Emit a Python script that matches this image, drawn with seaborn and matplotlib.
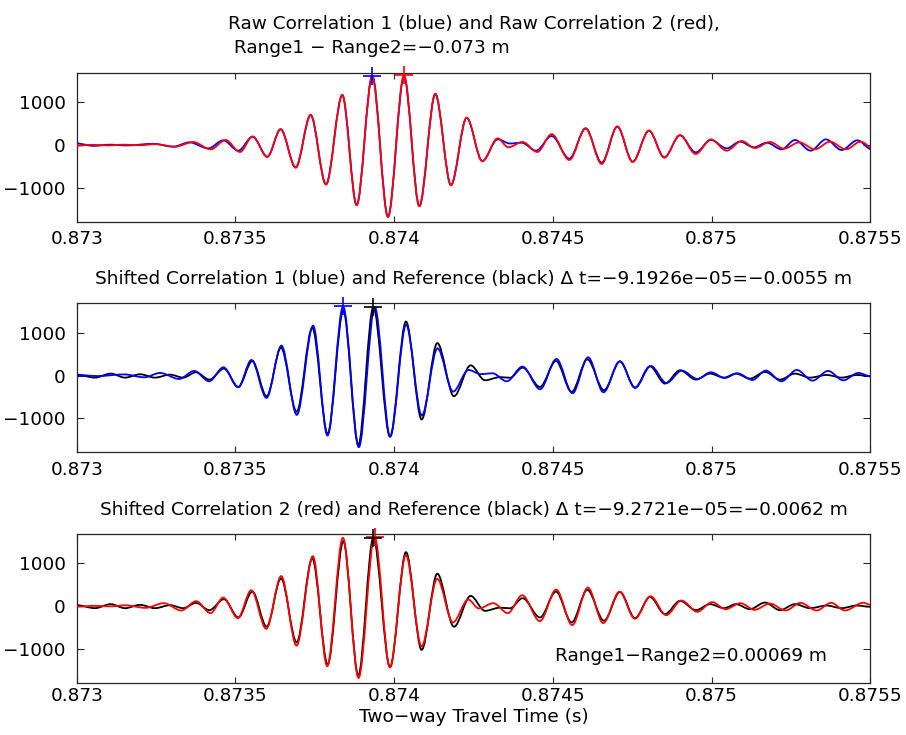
import numpy as np
import pandas as pd
import seaborn as sns
import matplotlib
matplotlib.use("Agg")
import matplotlib.pyplot as plt
from matplotlib.path import Path
from matplotlib.patches import PathPatch

# Peaks and troughs of each correlation trace: two-way travel time (s), amplitude
raw1_time = [0.8730000, 0.8730524, 0.8731049, 0.8731574, 0.8732414, 0.8733044, 0.8733547,
             0.8734146, 0.8734618, 0.8735091, 0.8735542, 0.8736004, 0.8736424, 0.8736897,
             0.8737369, 0.8737852, 0.8738366, 0.8738818, 0.8739311, 0.8739805, 0.8740309,
             0.8740792, 0.8741295, 0.8741789, 0.8742283, 0.8742776, 0.8743259, 0.8743647,
             0.8744015, 0.8744466, 0.8744960, 0.8745516, 0.8746031, 0.8746535, 0.8747028,
             0.8747511, 0.8748025, 0.8748508, 0.8749002, 0.8749495, 0.8749978, 0.8750472,
             0.8750891, 0.8751332, 0.8751731, 0.8752204, 0.8752624, 0.8753117, 0.8753600,
             0.8754094, 0.8754587, 0.8755064, 0.8755537, 0.8755931]
raw1_amp = [35, -20, 8, -10, 28, -39, 62, -78, 109, -132, 194, -272, 365, -521, 700, -917,
            1166, -1399, 1615, -1671, 1600, -1422, 1189, -932, 637, -373, 132, 35, 54, -132,
            210, -318, 389, -412, 427, -389, 334, -287, 225, -171, 117, -78, 78, -54, 54,
            -101, 117, -132, 132, -117, 109, -110, 62, -15]

raw2_time = [0.8730000, 0.8730471, 0.8730996, 0.8731469, 0.8731994, 0.8732466, 0.8733096,
             0.8733673, 0.8734220, 0.8734692, 0.8735143, 0.8735542, 0.8736004, 0.8736424,
             0.8736897, 0.8737369, 0.8737852, 0.8738366, 0.8738818, 0.8739311, 0.8739805,
             0.8740309, 0.8740792, 0.8741295, 0.8741789, 0.8742283, 0.8742776, 0.8743259,
             0.8743595, 0.8744046, 0.8744508, 0.8744960, 0.8745516, 0.8746031, 0.8746535,
             0.8747028, 0.8747511, 0.8748025, 0.8748508, 0.8749002, 0.8749495, 0.8749978,
             0.8750472, 0.8750944, 0.8751364, 0.8751836, 0.8752277, 0.8752760, 0.8753254,
             0.8753726, 0.8754230, 0.8754692, 0.8755124, 0.8755704, 0.8755934]
raw2_amp = [-16, 5, -10, 8, -5, 20, -39, 70, -101, 117, -163, 200, -280, 372, -530, 705,
            -925, 1170, -1405, 1600, -1680, 1625, -1430, 1195, -940, 640, -380, 155, -54, 70,
            -163, 256, -350, 389, -443, 435, -395, 340, -295, 232, -210, 132, -132, 93, -70,
            70, -85, 62, -101, 78, -101, 78, -101, 80, 31]

ref_time = [0.8730000, 0.8730576, 0.8731070, 0.8731521, 0.8731994, 0.8732466, 0.8732939,
            0.8733358, 0.8733757, 0.8734177, 0.8734639, 0.8735091, 0.8735532, 0.8735983,
            0.8736435, 0.8736928, 0.8737421, 0.8737905, 0.8738398, 0.8738870, 0.8739343,
            0.8739868, 0.8740372, 0.8740865, 0.8741358, 0.8741883, 0.8742408, 0.8742860,
            0.8743332, 0.8743647, 0.8744046, 0.8744592, 0.8745096, 0.8745590, 0.8746083,
            0.8746608, 0.8747112, 0.8747584, 0.8748057, 0.8748529, 0.8749002, 0.8749506,
            0.8749946, 0.8750387, 0.8750765, 0.8751206, 0.8751679, 0.8752151, 0.8752624,
            0.8753096, 0.8753621, 0.8754094, 0.8754566, 0.8755000]
ref_amp = [23, -47, 47, -47, 31, -47, 23, -47, 78, -93, 163, -264, 341, -481, 651, -845,
           1116, -1364, 1519, -1620, 1600, -1426, 1263, -1023, 760, -481, 240, -109, -35, -50,
           186, -264, 341, -380, 380, -341, 333, -279, 217, -186, 124, -93, 47, -47, 47, -70,
           85, -93, 47, -47, 15, -47, 15, -15]

# Time shifts applied to align each correlation with the reference
dt1 = -9.1926e-05
dt2 = -9.2721e-05
shift1_m = -0.0055
shift2_m = -0.0062
raw_range_diff_m = -0.073
range_diff_m = 0.00069

xticks = [0.873, 0.8735, 0.874, 0.8745, 0.875, 0.8755]
xtick_labels = ["0.873", "0.8735", "0.874", "0.8745", "0.875", "0.8755"]
yticks = [-1000, 0, 1000]
xlim = (0.873, 0.8755)
ylim = (-1790, 1688)

BLUE, RED, BLACK = "#0000ff", "#ff0000", "#000000"
AXC = "#262626"
FS = 13.3

sns.set_style("ticks", {"xtick.direction": "in", "ytick.direction": "in",
                        "axes.edgecolor": AXC, "xtick.color": AXC, "ytick.color": AXC,
                        "text.color": "black", "axes.labelcolor": "black"})
plt.rcParams["font.family"] = ["DejaVu Sans"]
plt.rcParams["font.size"] = FS
plt.rcParams["axes.unicode_minus"] = True


def mstr(x):
    return str(x).replace("-", "\u2212")


def draw_trace(ax, t, v, color, shift=0.0, z=2):
    """Smooth trace through the peaks/troughs (cubic segments, flat at extrema)."""
    t = np.asarray(t, dtype=float) + shift
    v = np.asarray(v, dtype=float)
    verts = [(t[0], v[0])]
    codes = [Path.MOVETO]
    for i in range(len(t) - 1):
        h = (t[i + 1] - t[i]) / 3.0
        verts += [(t[i] + h, v[i]), (t[i + 1] - h, v[i + 1]), (t[i + 1], v[i + 1])]
        codes += [Path.CURVE4] * 3
    ax.add_patch(PathPatch(Path(verts, codes), fill=False, edgecolor=color, lw=1.3,
                           zorder=z, joinstyle="round", capstyle="round"))


def mark_peak(ax, t, v, color, shift=0.0, z=5):
    i = int(np.argmax(v))
    df = pd.DataFrame({"t": [t[i] + shift], "v": [v[i]]})
    sns.scatterplot(data=df, x="t", y="v", marker="+", s=150, color=color,
                    linewidth=1.2, ax=ax, zorder=z, clip_on=False, legend=False)


fig = plt.figure(figsize=(9.06, 7.35), dpi=100)
W = 0.87605
ax1 = fig.add_axes([0.08466, 0.69837, W, 0.20272])
ax2 = fig.add_axes([0.08466, 0.38463, W, 0.20272])
ax3 = fig.add_axes([0.08466, 0.07116, W, 0.20231])

draw_trace(ax1, raw1_time, raw1_amp, BLUE)
draw_trace(ax1, raw2_time, raw2_amp, RED, z=3)
mark_peak(ax1, raw1_time, raw1_amp, BLUE)
mark_peak(ax1, raw2_time, raw2_amp, RED, z=6)

draw_trace(ax2, ref_time, ref_amp, BLACK)
draw_trace(ax2, raw1_time, raw1_amp, BLUE, shift=dt1, z=3)
mark_peak(ax2, raw1_time, raw1_amp, BLUE, shift=dt1)
mark_peak(ax2, ref_time, ref_amp, BLACK, z=6)

draw_trace(ax3, ref_time, ref_amp, BLACK)
draw_trace(ax3, raw2_time, raw2_amp, RED, shift=dt2, z=3)
mark_peak(ax3, raw2_time, raw2_amp, RED, shift=dt2)
mark_peak(ax3, ref_time, ref_amp, BLACK, z=6)

for ax, xpad in ((ax1, 6), (ax2, 6), (ax3, 3)):
    ax.set_xlim(*xlim)
    ax.set_ylim(*ylim)
    ax.set_xticks(xticks)
    ax.set_xticklabels(xtick_labels)
    ax.set_yticks(yticks)
    ax.set_yticklabels([mstr(y) for y in yticks])
    ax.set_xlabel("")
    ax.set_ylabel("")
    ax.tick_params(axis="x", which="both", direction="in", top=True, bottom=True,
                   length=4.0, width=0.8, pad=xpad, labelsize=FS, colors=AXC,
                   labelcolor="black")
    ax.tick_params(axis="y", which="both", direction="in", left=True, right=True,
                   length=5.3, width=0.8, pad=8, labelsize=FS, colors=AXC,
                   labelcolor="black")
    for sp in ax.spines.values():
        sp.set_visible(True)
        sp.set_linewidth(0.9)
        sp.set_color(AXC)

ax1.set_title("Raw Correlation 1 (blue) and Raw Correlation 2 (red),\n"
              " Range1 \u2212 Range2=" + mstr(raw_range_diff_m) + " m",
              fontsize=FS, pad=14, multialignment="left", linespacing=1.45,
              color="black")
ax2.set_title("Shifted Correlation 1 (blue) and Reference (black) \u0394 t="
              + mstr(f"{dt1:.4e}") + "=" + mstr(shift1_m) + " m",
              fontsize=FS, pad=14, color="black")
ax3.set_title("Shifted Correlation 2 (red) and Reference (black) \u0394 t="
              + mstr(f"{dt2:.4e}") + "=" + mstr(shift2_m) + " m",
              fontsize=FS, pad=14, color="black")

ax3.text(0.8745077, -1290, "Range1\u2212Range2=" + mstr(range_diff_m) + " m",
         ha="left", va="baseline", fontsize=FS, color="black")

ax3.set_xlabel("Two\u2212way Travel Time (s)", fontsize=FS, color="black")
ax3.xaxis.set_label_coords(0.5, -0.168)
ax3.xaxis.label.set_va("top")

fig.savefig("out.png", dpi=100, facecolor="white")
